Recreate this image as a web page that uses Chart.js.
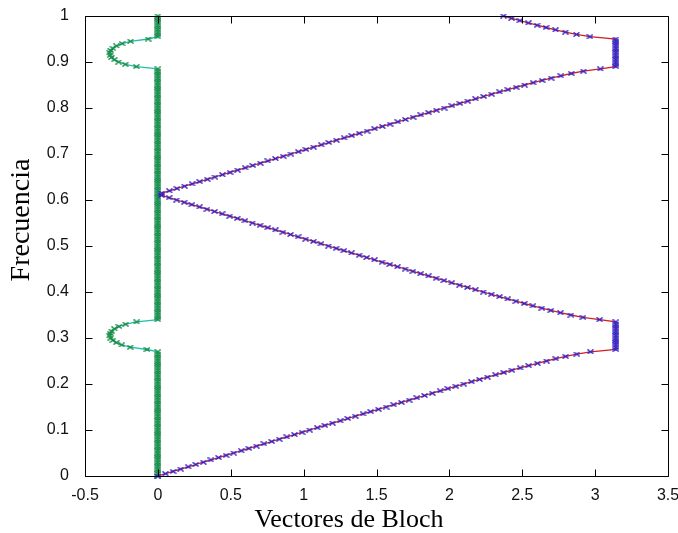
<!DOCTYPE html>
<html>
<head>
<meta charset="utf-8">
<script src="https://cdn.jsdelivr.net/npm/chart.js@4.4.1/dist/chart.umd.min.js"></script>
<style>
  html, body { margin: 0; padding: 0; background: #ffffff; }
  canvas { display: block; }
</style>
</head>
<body>
<canvas id="bloch" width="678" height="533"></canvas>
<script>
// Normalised frequency samples
const freq = [
  0, 0.005, 0.01, 0.015, 0.02, 0.025, 0.03, 0.035, 0.04, 0.045,
  0.05, 0.055, 0.06, 0.065, 0.07, 0.075, 0.08, 0.085, 0.09, 0.095,
  0.1, 0.105, 0.11, 0.115, 0.12, 0.125, 0.13, 0.135, 0.14, 0.145,
  0.15, 0.155, 0.16, 0.165, 0.17, 0.175, 0.18, 0.185, 0.19, 0.195,
  0.2, 0.205, 0.21, 0.215, 0.22, 0.225, 0.23, 0.235, 0.24, 0.245,
  0.25, 0.255, 0.26, 0.265, 0.27, 0.275, 0.28, 0.285, 0.29, 0.295,
  0.3, 0.305, 0.31, 0.315, 0.32, 0.325, 0.33, 0.335, 0.34, 0.345,
  0.35, 0.355, 0.36, 0.365, 0.37, 0.375, 0.38, 0.385, 0.39, 0.395,
  0.4, 0.405, 0.41, 0.415, 0.42, 0.425, 0.43, 0.435, 0.44, 0.445,
  0.45, 0.455, 0.46, 0.465, 0.47, 0.475, 0.48, 0.485, 0.49, 0.495,
  0.5, 0.505, 0.51, 0.515, 0.52, 0.525, 0.53, 0.535, 0.54, 0.545,
  0.55, 0.555, 0.56, 0.565, 0.57, 0.575, 0.58, 0.585, 0.59, 0.595,
  0.6, 0.605, 0.61, 0.615, 0.62, 0.625, 0.63, 0.635, 0.64, 0.645,
  0.65, 0.655, 0.66, 0.665, 0.67, 0.675, 0.68, 0.685, 0.69, 0.695,
  0.7, 0.705, 0.71, 0.715, 0.72, 0.725, 0.73, 0.735, 0.74, 0.745,
  0.75, 0.755, 0.76, 0.765, 0.77, 0.775, 0.78, 0.785, 0.79, 0.795,
  0.8, 0.805, 0.81, 0.815, 0.82, 0.825, 0.83, 0.835, 0.84, 0.845,
  0.85, 0.855, 0.86, 0.865, 0.87, 0.875, 0.88, 0.885, 0.89, 0.895,
  0.9, 0.905, 0.91, 0.915, 0.92, 0.925, 0.93, 0.935, 0.94, 0.945,
  0.95, 0.955, 0.96, 0.965, 0.97, 0.975, 0.98, 0.985, 0.99, 0.995,
  1.0
];

// Real part of the Bloch vector at each frequency
const blochRe = [
  0, 0.052, 0.104, 0.156, 0.208, 0.260, 0.312, 0.364, 0.416, 0.468,
  0.520, 0.572, 0.624, 0.676, 0.728, 0.781, 0.833, 0.885, 0.937, 0.989,
  1.041, 1.094, 1.146, 1.198, 1.251, 1.303, 1.355, 1.408, 1.460, 1.513,
  1.566, 1.618, 1.671, 1.724, 1.777, 1.830, 1.883, 1.937, 1.990, 2.044,
  2.098, 2.152, 2.207, 2.261, 2.317, 2.373, 2.429, 2.486, 2.544, 2.604,
  2.666, 2.730, 2.798, 2.874, 2.968, 3.142, 3.142, 3.142, 3.142, 3.142,
  3.142, 3.142, 3.142, 3.142, 3.142, 3.142, 3.142, 3.142, 3.031, 2.916,
  2.834, 2.762, 2.696, 2.634, 2.573, 2.514, 2.457, 2.400, 2.344, 2.288,
  2.233, 2.178, 2.124, 2.070, 2.016, 1.963, 1.909, 1.856, 1.803, 1.750,
  1.697, 1.644, 1.591, 1.538, 1.486, 1.433, 1.381, 1.328, 1.276, 1.223,
  1.171, 1.119, 1.067, 1.014, 0.962, 0.910, 0.858, 0.806, 0.754, 0.701,
  0.649, 0.597, 0.545, 0.493, 0.441, 0.389, 0.337, 0.285, 0.233, 0.181,
  0.129, 0.077, 0.025, 0.027, 0.079, 0.131, 0.183, 0.235, 0.287, 0.339,
  0.391, 0.443, 0.495, 0.547, 0.599, 0.651, 0.703, 0.755, 0.807, 0.860,
  0.912, 0.964, 1.016, 1.068, 1.121, 1.173, 1.225, 1.278, 1.330, 1.382,
  1.435, 1.487, 1.540, 1.593, 1.646, 1.698, 1.751, 1.804, 1.858, 1.911,
  1.964, 2.018, 2.072, 2.126, 2.180, 2.235, 2.290, 2.345, 2.402, 2.458,
  2.516, 2.575, 2.636, 2.698, 2.765, 2.836, 2.919, 3.036, 3.142, 3.142,
  3.142, 3.142, 3.142, 3.142, 3.142, 3.142, 3.142, 3.142, 3.142, 3.142,
  3.142, 2.964, 2.872, 2.796, 2.728, 2.663, 2.602, 2.542, 2.484, 2.427,
  2.371
];

// Imaginary part of the Bloch vector (non-zero only inside the band gaps)
const blochIm = [
  0, 0, 0, 0, 0, 0, 0, 0, 0, 0,
  0, 0, 0, 0, 0, 0, 0, 0, 0, 0,
  0, 0, 0, 0, 0, 0, 0, 0, 0, 0,
  0, 0, 0, 0, 0, 0, 0, 0, 0, 0,
  0, 0, 0, 0, 0, 0, 0, 0, 0, 0,
  0, 0, 0, 0, 0, -0.075, -0.190, -0.248, -0.285, -0.309,
  -0.324, -0.330, -0.328, -0.318, -0.298, -0.267, -0.221, -0.145, 0, 0,
  0, 0, 0, 0, 0, 0, 0, 0, 0, 0,
  0, 0, 0, 0, 0, 0, 0, 0, 0, 0,
  0, 0, 0, 0, 0, 0, 0, 0, 0, 0,
  0, 0, 0, 0, 0, 0, 0, 0, 0, 0,
  0, 0, 0, 0, 0, 0, 0, 0, 0, 0,
  0, 0, 0, 0, 0, 0, 0, 0, 0, 0,
  0, 0, 0, 0, 0, 0, 0, 0, 0, 0,
  0, 0, 0, 0, 0, 0, 0, 0, 0, 0,
  0, 0, 0, 0, 0, 0, 0, 0, 0, 0,
  0, 0, 0, 0, 0, 0, 0, 0, 0, 0,
  0, 0, 0, 0, 0, 0, 0, 0, -0.148, -0.223,
  -0.269, -0.299, -0.318, -0.328, -0.330, -0.324, -0.309, -0.284, -0.246, -0.187,
  -0.067, 0, 0, 0, 0, 0, 0, 0, 0, 0,
  0
];

// Axis ticks
const xTicks = [-0.5, 0, 0.5, 1, 1.5, 2, 2.5, 3, 3.5];
const xTickLabels = ['-0.5', '0', '0.5', '1', '1.5', '2', '2.5', '3', '3.5'];
const yTicks = [0, 0.1, 0.2, 0.3, 0.4, 0.5, 0.6, 0.7, 0.8, 0.9, 1];
const yTickLabels = ['0', '0.1', '0.2', '0.3', '0.4', '0.5', '0.6', '0.7', '0.8', '0.9', '1'];

const xTitle = 'Vectores de Bloch';
const yTitle = 'Frecuencia';

const RED = '#d42020';
const BLUE = '#3020c8';
const CYAN = '#22c0b0';
const GREEN = '#128a44';

// Small "x" marker sprite
function crossMark(color) {
  const c = document.createElement('canvas');
  c.width = 7;
  c.height = 5;
  const g = c.getContext('2d');
  g.strokeStyle = color;
  g.lineWidth = 1.4;
  g.beginPath();
  g.moveTo(0.5, 0.5); g.lineTo(6.5, 4.5);
  g.moveTo(0.5, 4.5); g.lineTo(6.5, 0.5);
  g.stroke();
  return c;
}

const rePoints = freq.map((f, i) => ({ x: blochRe[i], y: f }));
const imPoints = freq.map((f, i) => ({ x: blochIm[i], y: f }));

// Closed axes box with inward ticks, plus axis titles
const boxAxes = {
  id: 'boxAxes',
  afterDatasetsDraw(chart) {
    const { ctx, chartArea, scales } = chart;
    const L = Math.round(chartArea.left) + 0.5;
    const R = Math.round(chartArea.right) + 0.5;
    const T = Math.round(chartArea.top) + 0.5;
    const B = Math.round(chartArea.bottom) + 0.5;
    const len = 7;
    ctx.save();
    ctx.strokeStyle = '#000000';
    ctx.lineWidth = 1;
    ctx.beginPath();
    ctx.rect(L, T, R - L, B - T);
    xTicks.forEach(v => {
      const px = Math.round(scales.x.getPixelForValue(v)) + 0.5;
      ctx.moveTo(px, B); ctx.lineTo(px, B - len);
      ctx.moveTo(px, T); ctx.lineTo(px, T + len);
    });
    yTicks.forEach(v => {
      const py = Math.round(scales.y.getPixelForValue(v)) + 0.5;
      ctx.moveTo(L, py); ctx.lineTo(L + len, py);
      ctx.moveTo(R, py); ctx.lineTo(R - len, py);
    });
    ctx.stroke();
    ctx.restore();
  },
  afterDraw(chart) {
    const { ctx } = chart;
    ctx.save();
    ctx.fillStyle = '#000000';
    ctx.textAlign = 'center';
    ctx.textBaseline = 'middle';
    ctx.font = '26px "Liberation Serif", "Times New Roman", serif';
    ctx.fillText(xTitle, 349, 520);
    ctx.translate(22, 220);
    ctx.rotate(-Math.PI / 2);
    ctx.font = '28px "Liberation Serif", "Times New Roman", serif';
    ctx.fillText(yTitle, 0, 0);
    ctx.restore();
  }
};

const tickFont = { family: '"Liberation Sans", Arial, sans-serif', size: 16 };

new Chart(document.getElementById('bloch'), {
  type: 'scatter',
  data: {
    datasets: [
      { data: rePoints, showLine: false, pointStyle: crossMark(BLUE), pointRadius: 3, clip: false },
      { data: rePoints, showLine: true, borderColor: RED, borderWidth: 1.3, pointRadius: 0, fill: false, clip: false },
      { data: imPoints, showLine: false, pointStyle: crossMark(GREEN), pointRadius: 3, clip: false },
      { data: imPoints, showLine: true, borderColor: CYAN, borderWidth: 1.3, pointRadius: 0, fill: false, clip: false }
    ]
  },
  options: {
    responsive: false,
    animation: false,
    events: [],
    devicePixelRatio: 1,
    layout: { padding: { left: 0, top: 16, right: 10, bottom: 0 } },
    plugins: { legend: { display: false }, tooltip: { enabled: false } },
    scales: {
      x: {
        type: 'linear',
        min: -0.5,
        max: 3.5,
        grid: { display: false },
        border: { display: false },
        afterBuildTicks(scale) { scale.ticks = xTicks.map(v => ({ value: v })); },
        afterFit(scale) { scale.height = 57; scale.paddingLeft = 0; scale.paddingRight = 0; },
        ticks: {
          autoSkip: false,
          maxRotation: 0,
          padding: 2,
          color: '#111111',
          font: tickFont,
          callback: (v, i) => xTickLabels[i]
        }
      },
      y: {
        type: 'linear',
        min: 0,
        max: 1,
        grid: { display: false },
        border: { display: false },
        afterBuildTicks(scale) { scale.ticks = yTicks.map(v => ({ value: v })); },
        afterFit(scale) { scale.width = 85; scale.paddingTop = 0; scale.paddingBottom = 0; },
        ticks: {
          autoSkip: false,
          padding: 8,
          color: '#111111',
          font: tickFont,
          callback: (v, i) => yTickLabels[i]
        }
      }
    }
  },
  plugins: [boxAxes]
});
</script>
</body>
</html>
